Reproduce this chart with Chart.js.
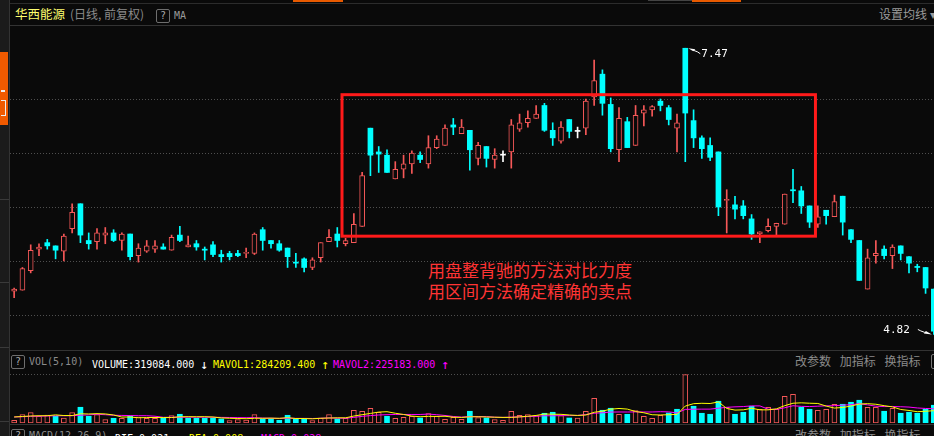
<!DOCTYPE html>
<html><head><meta charset="utf-8">
<script src="https://cdn.jsdelivr.net/npm/chart.js@4.4.1/dist/chart.umd.min.js"></script>
<style>
html,body{margin:0;padding:0;background:#0a0a0a;width:934px;height:436px;overflow:hidden;}
body{position:relative;font-family:"Noto Sans CJK SC","Noto Sans",sans-serif;}
.a{position:absolute;white-space:nowrap;line-height:1;}
.mono{font-family:"DejaVu Sans Mono",monospace;font-size:10px;}
.ar{font-size:13px;position:relative;top:1px;}
.q{position:absolute;width:12px;height:12px;border:1px solid #6e6e6e;border-radius:2px;color:#aaa;font:10px "DejaVu Sans Mono",monospace;text-align:center;line-height:12px;}
canvas{position:absolute;}
</style></head><body>
<div class="a" style="left:0;top:0;width:9px;height:436px;background:#1b1b1b;border-right:1px solid #333;"></div>
<div class="a" style="left:0;top:52px;width:8px;height:73px;background:#f05a00;"></div>
<div class="a" style="left:1px;top:90px;width:4px;height:2px;background:#eee;"></div>
<div class="a" style="left:1px;top:100px;width:4px;height:14px;border:1px solid #eee;border-left:0;"></div>
<div class="a" style="left:0;top:199px;width:9px;height:1px;background:#3a3a3a;"></div>
<div class="a" style="left:0;top:282px;width:9px;height:1px;background:#3a3a3a;"></div>
<div class="a" style="left:0;top:347px;width:9px;height:1px;background:#3a3a3a;"></div>
<div class="a" style="left:0;top:421px;width:9px;height:1px;background:#3a3a3a;"></div>
<div class="a" style="left:10px;top:3px;width:924px;height:1px;background:#2c2c2c;"></div>
<div class="a" style="left:293px;top:0;width:50px;height:2px;background:#e85a00;"></div>
<div class="a" style="left:648px;top:0;width:44px;height:1px;background:#444;"></div>
<div class="a" style="left:692px;top:0;width:49px;height:2px;background:#e85a00;"></div>
<div class="a" style="left:10px;top:25px;width:924px;height:1px;background:#333;"></div>

<div class="a" style="left:15px;top:8px;font-size:12.5px;color:#ffff70;">华西能源</div>
<div class="a" style="left:70px;top:8px;font-size:12px;color:#8a8a8a;">(日线, 前复权)</div>
<div class="q" style="left:156px;top:9px;">?</div>
<div class="a mono" style="left:174px;top:11px;color:#9a9a9a;">MA</div>
<div class="a" style="left:879px;top:8px;font-size:12px;color:#9a9a9a;">设置均线 ▾</div>

<div class="a" style="left:428px;top:259px;font-size:17px;line-height:21px;color:#ff3434;">用盘整背驰的方法对比力度<br>用区间方法确定精确的卖点</div>

<div class="a" style="left:10px;top:350px;width:924px;height:1px;background:#333;"></div>
<div class="q" style="left:11px;top:355px;">?</div>
<div class="a mono" style="left:29px;top:357px;color:#8a8a8a;">VOL(5,10)</div>
<div class="a mono" style="left:92px;top:357px;color:#ffffff;">VOLUME:319084.000 <span class="ar">↓</span></div>
<div class="a mono" style="left:213px;top:357px;color:#ffff00;">MAVOL1:284209.400 <span class="ar">↑</span></div>
<div class="a mono" style="left:333px;top:357px;color:#ff00ff;">MAVOL2:225183.000 <span class="ar">↑</span></div>
<div class="a" style="left:795px;top:355px;font-size:12px;color:#8a8a8a;word-spacing:6px;">改参数 加指标 换指标</div>
<div class="a" style="left:931px;top:354px;width:6px;height:13px;border:1px solid #777;border-radius:2px;"></div>
<div class="a" style="left:10px;top:424px;width:924px;height:1px;background:#333;"></div>
<div class="q" style="left:11px;top:429px;">?</div>
<div class="a mono" style="left:29px;top:431px;color:#8a8a8a;">MACD(12,26,9)</div>
<div class="a mono" style="left:115px;top:431px;color:#ffffff;">DIF:0.021 <span class="ar">↑</span></div>
<div class="a mono" style="left:189px;top:431px;color:#ffff00;">DEA:0.008 <span class="ar">↑</span></div>
<div class="a mono" style="left:261px;top:431px;color:#ff00ff;">MACD:0.028 <span class="ar">↑</span></div>
<div class="a" style="left:795px;top:429px;font-size:12px;color:#8a8a8a;word-spacing:6px;">改参数 加指标 换指标</div>

<canvas id="pc" width="928" height="324" style="left:10px;top:26px;"></canvas>
<canvas id="vc" width="928" height="49" style="left:10px;top:374px;"></canvas>

<script>
const opens = [5.22,5.23,5.41,5.61,5.67,5.64,5.59,5.80,6.03,5.69,
5.68,5.74,5.76,5.69,5.75,5.55,5.59,5.61,5.63,5.60,
5.74,5.63,5.66,5.61,5.65,5.56,5.57,5.57,5.57,5.57,
5.79,5.69,5.66,5.62,5.49,5.52,5.44,5.53,5.68,5.75,
5.66,5.67,5.82,6.73,6.51,6.48,6.26,6.35,6.40,6.48,
6.40,6.55,6.57,6.76,6.68,6.71,6.45,6.56,6.44,6.48,
6.51,6.72,6.78,6.82,6.94,6.71,6.61,6.81,6.70,6.73,
7.02,7.23,6.95,6.53,6.79,6.57,6.87,6.90,6.98,6.92,
6.73,7.47,6.80,6.64,6.57,6.51,6.06,6.02,6.01,5.89,
5.75,5.78,5.82,5.84,6.16,6.15,6.01,5.84,5.97,5.91,
6.10,5.79,5.69,5.24,5.55,5.61,5.55,5.64,5.54,5.45,
5.44,5.24];
const highs = [5.25,5.44,5.65,5.66,5.70,5.64,5.75,6.03,6.03,5.76,
5.80,5.81,5.79,5.76,5.75,5.66,5.69,5.69,5.66,5.74,
5.82,5.73,5.69,5.63,5.68,5.60,5.59,5.60,5.62,5.76,
5.81,5.69,5.69,5.62,5.57,5.53,5.53,5.67,5.79,5.81,
5.71,5.94,6.32,6.73,6.56,6.53,6.42,6.48,6.52,6.51,
6.66,6.66,6.76,6.82,6.81,6.71,6.60,6.56,6.54,6.52,
6.81,6.86,6.89,6.94,6.96,6.78,6.79,6.81,6.74,7.00,
7.36,7.27,7.01,6.92,6.83,6.94,6.94,6.94,7.00,6.94,
6.86,7.47,6.90,6.66,6.64,6.51,6.16,6.10,6.06,5.93,
5.77,5.89,5.85,6.12,6.35,6.19,6.01,6.01,5.97,6.11,
6.10,5.79,5.69,5.61,5.69,5.64,5.65,5.64,5.54,5.47,
5.44,5.24];
const lows = [5.16,5.23,5.39,5.55,5.61,5.52,5.50,5.76,5.67,5.61,
5.61,5.66,5.68,5.60,5.51,5.49,5.58,5.58,5.61,5.60,
5.68,5.63,5.60,5.51,5.54,5.49,5.51,5.54,5.53,5.56,
5.60,5.62,5.59,5.44,5.44,5.40,5.42,5.49,5.68,5.63,
5.64,5.67,5.82,6.29,6.32,6.32,6.26,6.27,6.31,6.41,
6.36,6.54,6.57,6.67,6.68,6.34,6.39,6.37,6.36,6.42,
6.36,6.70,6.74,6.82,6.70,6.57,6.59,6.64,6.64,6.67,
6.94,6.85,6.51,6.42,6.55,6.57,6.75,6.84,6.89,6.76,
6.51,6.42,6.55,6.45,6.43,5.92,5.76,5.89,5.89,5.70,
5.67,5.77,5.74,5.84,6.04,5.94,5.81,5.81,5.84,5.91,
5.74,5.67,5.32,5.24,5.48,5.52,5.43,5.51,5.39,5.40,
5.20,4.82];
const closes = [5.24,5.43,5.60,5.63,5.64,5.60,5.73,5.95,5.74,5.66,
5.76,5.76,5.69,5.75,5.54,5.62,5.64,5.64,5.61,5.72,
5.69,5.65,5.63,5.60,5.56,5.54,5.54,5.55,5.58,5.75,
5.69,5.66,5.60,5.54,5.48,5.44,5.51,5.67,5.72,5.69,
5.69,5.84,6.29,6.48,6.49,6.32,6.35,6.40,6.50,6.44,
6.55,6.63,6.73,6.74,6.74,6.53,6.57,6.45,6.48,6.48,
6.76,6.78,6.82,6.86,6.71,6.64,6.74,6.70,6.70,6.98,
7.17,6.96,6.54,6.82,6.55,6.85,6.90,6.93,6.94,6.81,
6.78,6.87,6.64,6.54,6.46,6.00,6.07,5.98,5.92,5.75,
5.77,5.82,5.85,6.12,6.15,6.01,5.86,5.91,5.92,6.05,
5.86,5.70,5.32,5.53,5.57,5.55,5.63,5.57,5.48,5.44,
5.25,4.85];
const volumes = [48600,149400,185400,126000,144000,120600,90000,185400,282600,120600,
149400,59400,84600,84600,120600,108000,84600,84600,84600,131400,
156600,84600,84600,84600,84600,72000,41400,59400,54000,149400,
72000,72000,48600,138600,72000,72000,41400,90000,149400,72000,
84600,228600,210600,264600,192600,120600,84600,102600,120600,90000,
167400,120600,66600,102600,66600,210600,95400,90000,59400,48600,
210600,138600,149400,131400,174600,192600,131400,90000,90000,210600,
444600,228600,264600,156600,156600,221400,120600,84600,138600,180000,
246600,869400,300600,174600,156600,390600,282600,156600,192600,300600,
246600,282600,246600,480600,516600,282600,246600,228600,246600,336600,
336600,372600,408600,282600,282600,210600,264600,174600,192600,174600,
246600,319084];
const mavol1 = [108000,117000,126000,130000,131000,146000,134000,134000,166000,162000,
168000,163000,144000,107000,107000,94000,98000,99000,97000,98000,
112000,113000,112000,113000,108000,91000,85000,81000,77000,85000,
85000,87000,84000,96000,80000,80000,75000,85000,89000,93000,
93000,125000,149000,172000,196000,203000,175000,153000,124000,113000,
119000,118000,121000,104000,100000,111000,112000,108000,104000,101000,
101000,109000,121000,136000,161000,157000,156000,144000,136000,143000,
193000,213000,248000,261000,250000,206000,184000,148000,144000,149000,
154000,304000,347000,354000,350000,378000,261000,232000,236000,265000,
236000,236000,254000,311000,355000,362000,355000,351000,304000,268000,
279000,304000,340000,347000,337000,311000,290000,243000,225000,203000,
211000,221000];
const mavol2 = [108000,113000,119000,122000,126000,130000,130000,131000,140000,146000,
157000,149000,139000,136000,134000,131000,131000,122000,102000,103000,
103000,105000,105000,105000,103000,101000,99000,96000,95000,97000,
88000,86000,82000,86000,83000,83000,81000,85000,92000,86000,
86000,101000,119000,133000,144000,149000,153000,153000,153000,153000,
160000,149000,135000,117000,106000,115000,115000,115000,104000,100000,
106000,111000,115000,120000,131000,129000,133000,133000,136000,152000,
175000,184000,196000,198000,197000,199000,198000,198000,203000,200000,
180000,244000,248000,249000,249000,266000,282000,290000,295000,307000,
307000,248000,243000,274000,310000,299000,295000,302000,308000,311000,
320000,329000,346000,326000,302000,295000,297000,292000,286000,270000,
261000,256000];
const priceGridLines = [5.0, 5.5, 6.0, 6.5, 7.0];
const zone = {fromIdx: 39.57, toIdx: 96.71, hi: 7.04, lo: 5.73};

const PRICE_MIN = 4.676, PRICE_MAX = 7.676, VOL_MAX = 880000;
const RED = '#f65858', CYAN = '#00ffff', WHITE = '#ffffff', BG = '#0a0a0a';
const labels = opens.map((_, i) => String(i + 1));
const dir = opens.map((o, i) => closes[i] > o ? 1 : closes[i] < o ? -1 : 0);
const cColor = dir.map(d => d > 0 ? RED : d < 0 ? CYAN : WHITE);
const volUp = closes.map((c, i) => i === 0 ? true : c >= closes[i - 1]);

const zonePlugin = {
  id: 'zone',
  afterDatasetsDraw(chart) {
    const {ctx, scales: {x, y}} = chart;
    const x0 = x.getPixelForValue(zone.fromIdx), x1 = x.getPixelForValue(zone.toIdx);
    const y0 = y.getPixelForValue(zone.hi), y1 = y.getPixelForValue(zone.lo);
    ctx.save();
    ctx.strokeStyle = '#ff1a1a';
    ctx.lineWidth = 3;
    ctx.strokeRect(x0, y0, x1 - x0, y1 - y0);
    ctx.restore();
  }
};
const extremesPlugin = {
  id: 'extremes',
  afterDatasetsDraw(chart) {
    const {ctx, scales: {x, y}} = chart;
    let hi = 0, lo = 0;
    highs.forEach((h, i) => { if (h > highs[hi]) hi = i; });
    lows.forEach((l, i) => { if (l < lows[lo]) lo = i; });
    ctx.save();
    ctx.fillStyle = '#ffffff'; ctx.strokeStyle = '#ffffff'; ctx.lineWidth = 1;
    ctx.font = '11px "DejaVu Sans Mono", monospace';
    let px = x.getPixelForValue(hi), py = y.getPixelForValue(highs[hi]);
    ctx.beginPath(); ctx.moveTo(px + 3, py); ctx.lineTo(px + 10, py + 1); ctx.lineTo(px + 8, py + 3); ctx.closePath(); ctx.fill();
    ctx.beginPath(); ctx.moveTo(px + 8, py + 2); ctx.lineTo(px + 12, py + 3.5); ctx.lineTo(px + 15, py + 5.5); ctx.stroke();
    ctx.textBaseline = 'middle'; ctx.textAlign = 'left';
    ctx.fillText(highs[hi].toFixed(2), px + 16, py + 6);
    px = x.getPixelForValue(lo); py = y.getPixelForValue(lows[lo]);
    ctx.beginPath(); ctx.moveTo(px - 2, py); ctx.lineTo(px - 10, py - 1); ctx.lineTo(px - 8, py - 3.5); ctx.closePath(); ctx.fill();
    ctx.beginPath(); ctx.moveTo(px - 9, py - 2); ctx.lineTo(px - 13, py - 3.5); ctx.lineTo(px - 16, py - 5); ctx.stroke();
    ctx.textAlign = 'right';
    ctx.fillText(lows[lo].toFixed(2), px - 24, py - 4);
    ctx.restore();
  }
};

new Chart(document.getElementById('pc'), {
  type: 'bar',
  data: {
    labels,
    datasets: [
      {label: 'wick', data: lows.map((l, i) => [l, highs[i]]), backgroundColor: cColor, borderWidth: 0,
       barThickness: 1, grouped: false, order: 2},
      {label: 'body', data: opens.map((o, i) => [o, closes[i]]),
       backgroundColor: dir.map((d, i) => d > 0 ? BG : cColor[i]), borderColor: cColor,
       borderWidth: dir.map(d => d > 0 ? 1 : 0), borderSkipped: false, barThickness: 5, minBarLength: 1,
       grouped: false, order: 1}
    ]
  },
  options: {
    responsive: false, animation: false, devicePixelRatio: 1, events: [],
    layout: {padding: 0, autoPadding: false},
    plugins: {legend: {display: false}, tooltip: {enabled: false}},
    scales: {
      x: {display: false, offset: true},
      y: {min: PRICE_MIN, max: PRICE_MAX, position: 'right',
          ticks: {display: false}, grid: {color: '#4f4f4f', drawTicks: false, lineWidth: 1},
          border: {display: false, dash: [1, 2]},
          afterBuildTicks: s => { s.ticks = priceGridLines.map(v => ({value: v})); },
          afterFit: s => { s.width = 0; }}
    }
  },
  plugins: [zonePlugin, extremesPlugin]
});

const volTopLine = {
  id: 'volTop',
  beforeDatasetsDraw(chart) {
    const {ctx, chartArea} = chart;
    ctx.save();
    ctx.strokeStyle = '#4f4f4f'; ctx.setLineDash([1, 2]); ctx.lineWidth = 1;
    ctx.beginPath(); ctx.moveTo(chartArea.left, chartArea.top + 0.5); ctx.lineTo(chartArea.right, chartArea.top + 0.5); ctx.stroke();
    ctx.restore();
  }
};

new Chart(document.getElementById('vc'), {
  data: {
    labels,
    datasets: [
      {type: 'line', label: 'MAVOL1', data: mavol1, borderColor: '#ffff00', borderWidth: 1, pointRadius: 0, tension: 0, order: 0},
      {type: 'line', label: 'MAVOL2', data: mavol2, borderColor: '#ff00ff', borderWidth: 1, pointRadius: 0, tension: 0, order: 0},
      {type: 'bar', label: 'VOLUME', data: volumes,
       backgroundColor: volUp.map(u => u ? BG : CYAN), borderColor: volUp.map(u => u ? RED : CYAN),
       borderWidth: volUp.map(u => u ? 1 : 0), borderSkipped: false, barThickness: 5, grouped: false, order: 1}
    ]
  },
  options: {
    responsive: false, animation: false, devicePixelRatio: 1, events: [],
    layout: {padding: 0, autoPadding: false},
    plugins: {legend: {display: false}, tooltip: {enabled: false}},
    scales: {
      x: {display: false, offset: true},
      y: {display: false, min: 0, max: VOL_MAX}
    }
  },
  plugins: [volTopLine]
});
</script>
</body></html>
